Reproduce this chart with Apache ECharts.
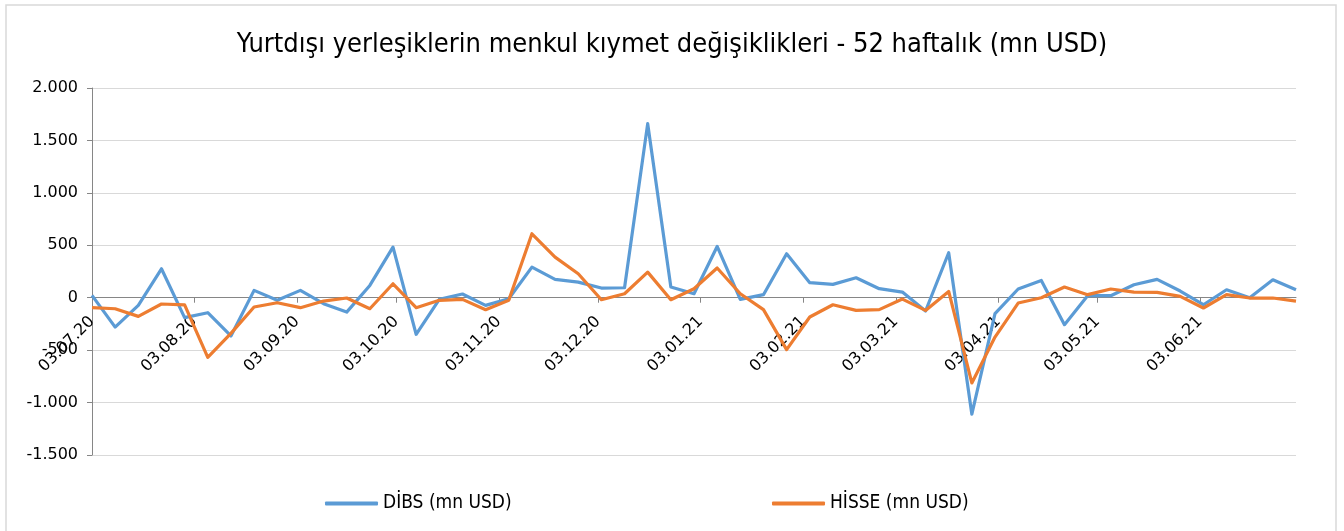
<!DOCTYPE html>
<html>
<head>
<meta charset="utf-8">
<script src="https://cdn.jsdelivr.net/npm/echarts@6/dist/echarts.min.js"></script>
<style>html,body{margin:0;padding:0;background:#fff}#c{width:1344px;height:531px}</style>
</head>
<body>
<div id="c"></div>
<script>
const dates = ['2020-07-03','2020-07-10','2020-07-17','2020-07-24','2020-07-31','2020-08-07','2020-08-14','2020-08-21','2020-08-28','2020-09-04','2020-09-11','2020-09-18','2020-09-25','2020-10-02','2020-10-09','2020-10-16','2020-10-23','2020-10-30','2020-11-06','2020-11-13','2020-11-20','2020-11-27','2020-12-04','2020-12-11','2020-12-18','2020-12-25','2021-01-01','2021-01-08','2021-01-15','2021-01-22','2021-01-29','2021-02-05','2021-02-12','2021-02-19','2021-02-26','2021-03-05','2021-03-12','2021-03-19','2021-03-26','2021-04-02','2021-04-09','2021-04-16','2021-04-23','2021-04-30','2021-05-07','2021-05-14','2021-05-21','2021-05-28','2021-06-04','2021-06-11','2021-06-18','2021-06-25','2021-07-02'];
const dibs = [22,-280,-73,276,-190,-143,-365,70,-25,70,-57,-137,117,483,-349,-15,35,-73,-10,292,175,149,92,95,1660,102,38,489,-16,29,419,143,127,190,86,54,-127,429,-1111,-152,83,165,-257,19,19,124,175,64,-67,76,0,171,76];
const hisse = [-95,-105,-178,-60,-68,-568,-340,-89,-48,-95,-32,-3,-105,133,-95,-25,-16,-114,-25,610,387,229,-19,38,244,-19,86,283,38,-114,-495,-184,-67,-121,-114,-13,-121,60,-813,-375,-51,0,102,29,83,54,51,13,-98,29,-3,-3,-32];
const tickDates = ['2020-07-03','2020-08-03','2020-09-03','2020-10-03','2020-11-03','2020-12-03','2021-01-03','2021-02-03','2021-03-03','2021-04-03','2021-05-03','2021-06-03'];
const tickLabels = ['03.07.20','03.08.20','03.09.20','03.10.20','03.11.20','03.12.20','03.01.21','03.02.21','03.03.21','03.04.21','03.05.21','03.06.21'];
const seriesNames = ['DİBS (mn USD)','HİSSE (mn USD)'];

function dayOff(s){const p=s.split('-').map(Number);return Math.round((Date.UTC(p[0],p[1]-1,p[2])-Date.UTC(2020,6,3))/86400000);}
const xs = dates.map(dayOff);
const tickXs = tickDates.map(dayOff);
const labelMap = {}; tickXs.forEach((v,i)=>labelMap[v]=tickLabels[i]);
function fmt(v){const a=String(Math.abs(v)).replace(/\B(?=(\d{3})+(?!\d))/g,'.');return (v<0?'-':'')+a;}

const chart = echarts.init(document.getElementById('c'));
const font = 'DejaVu Sans, Verdana, sans-serif';
const cfont = 'DejaVu Sans Condensed, DejaVu Sans, sans-serif';
chart.setOption({
  animation:false,
  backgroundColor:'#fff',
  title:{text:'Yurtdışı yerleşiklerin menkul kıymet değişiklikleri - 52 haftalık (mn USD)',left:'center',top:26,
    textStyle:{fontFamily:cfont,fontSize:27,fontWeight:'normal',color:'#000'}},
  legend:[
    {data:[seriesNames[0]],left:325,top:494,padding:0,itemWidth:53,itemHeight:4,icon:'roundRect',
      textStyle:{fontFamily:cfont,fontSize:19,color:'#000'}},
    {data:[seriesNames[1]],left:772,top:494,padding:0,itemWidth:53,itemHeight:4,icon:'roundRect',
      textStyle:{fontFamily:cfont,fontSize:19,color:'#000'}}
  ],
  graphic:[{type:'rect',shape:{x:6,y:5,width:1330,height:560},style:{fill:'none',stroke:'#d9d9d9',lineWidth:1.5},silent:true}],
  grid:{left:92,right:48,top:88,bottom:76,containLabel:false},
  xAxis:{type:'value',min:0,max:364,
    axisLine:{onZero:true,lineStyle:{color:'#868686',width:1}},
    axisTick:{show:true,length:5,customValues:tickXs,lineStyle:{color:'#868686'}},
    axisLabel:{customValues:tickXs,rotate:45,margin:-136,fontFamily:font,fontSize:16,color:'#000',
      formatter:v=>labelMap[v]||''},
    splitLine:{show:false}},
  yAxis:{type:'value',min:-1500,max:2000,interval:500,
    axisLine:{show:true,lineStyle:{color:'#868686',width:1}},
    axisTick:{show:true,length:5,lineStyle:{color:'#868686'}},
    axisLabel:{fontFamily:font,fontSize:16,color:'#000',margin:14,formatter:fmt},
    splitLine:{lineStyle:{color:'#d9d9d9',width:1}}},
  series:[
    {name:seriesNames[0],type:'line',data:xs.map((x,i)=>[x,dibs[i]]),symbol:'none',
      lineStyle:{color:'#5B9BD5',width:3.2,join:'round'},itemStyle:{color:'#5B9BD5'}},
    {name:seriesNames[1],type:'line',data:xs.map((x,i)=>[x,hisse[i]]),symbol:'none',
      lineStyle:{color:'#ED7D31',width:3.2,join:'round'},itemStyle:{color:'#ED7D31'}}
  ]
});
</script>
</body>
</html>
